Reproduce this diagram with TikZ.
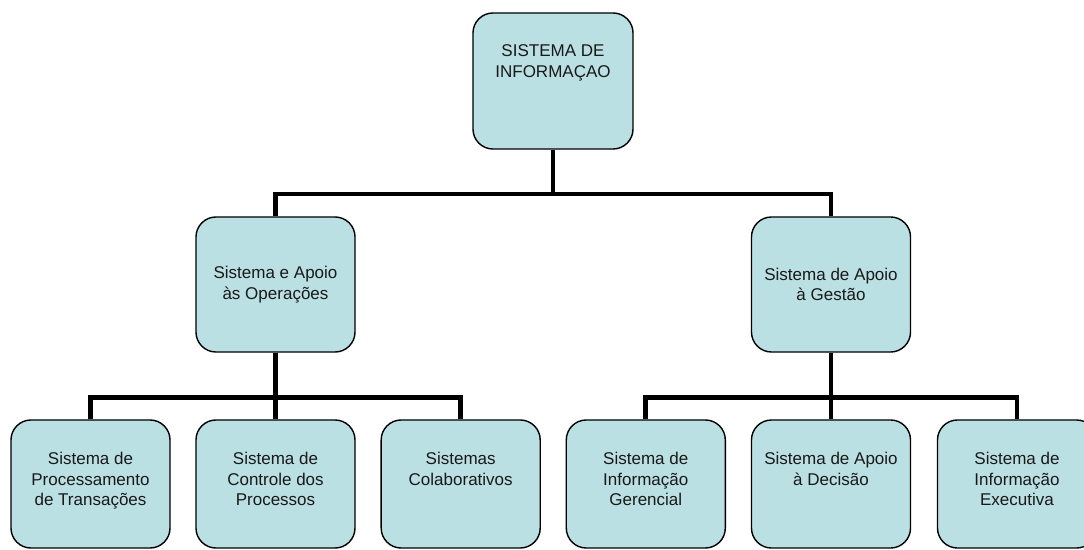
\documentclass[tikz,border=0pt]{standalone}
\usepackage{fontspec}
\setmainfont{Liberation Sans}
\usepackage{tikz}
\definecolor{orgfill}{HTML}{BBE0E3}
\tikzset{
	unit/.style = {
		draw=black,
		fill=orgfill,
		line width=1pt,
		rounded corners=0.5cm,
		inner sep=0pt,
		text=black!90,
		font=\fontsize{12.1}{14.8}\selectfont
	},
	midunit/.style = {
		unit,
		align=center,
		minimum width=3.975cm,
		minimum height=3.375cm
	},
	link/.style = {
		line width=3.5pt,
		black
	}
}
% box text hung from the top edge
\newcommand{\unittext}[3]{\parbox[c][#1][t]{#2}{\centering\vspace*{0.8cm}#3}}

\begin{document}
\begin{tikzpicture}[x=0.025cm, y=-0.025cm]
\useasboundingbox (0,0) rectangle (1084,550);

\node[unit] (info) at (553,81) {\unittext{3.4cm}{4cm}{SISTEMA DE\\INFORMAÇAO}};

\node[midunit] (ops) at (275.5,284.5) {Sistema e Apoio\\às Operações};
\node[midunit] (mgmt) at (831,284.5) {Sistema de Apoio\\à Gestão};

\node[unit] (tps) at (90.5,484) {\unittext{3.2cm}{3.975cm}{Sistema de\\Processamento\\de Transações}};
\node[unit] (pcs) at (275.5,484) {\unittext{3.2cm}{3.975cm}{Sistema de\\Controle dos\\Processos}};
\node[unit] (colab) at (460.7,484) {\unittext{3.2cm}{3.975cm}{Sistemas\\Colaborativos}};
\node[unit] (sig) at (645.8,484) {\unittext{3.2cm}{3.975cm}{Sistema de\\Informação\\Gerencial}};
\node[unit] (sad) at (831,484) {\unittext{3.2cm}{3.975cm}{Sistema de Apoio\\à Decisão}};
\node[unit] (sie) at (1017,484) {\unittext{3.2cm}{3.975cm}{Sistema de\\Informação\\Executiva}};

\coordinate (hub) at (553,194);
\coordinate (hubL) at (275.5,397.5);
\coordinate (hubR) at (831,397.5);

\draw[link] (info) -- (hub);
\draw[link] (ops.north) |- (hub) -| (mgmt.north);

\draw[link] (ops) -- (pcs);
\draw[link] (tps.north) |- (hubL) -| (colab.north);

\draw[link] (mgmt) -- (sad);
\draw[link] (sig.north) |- (hubR) -| (sie.north);
\end{tikzpicture}
\end{document}
